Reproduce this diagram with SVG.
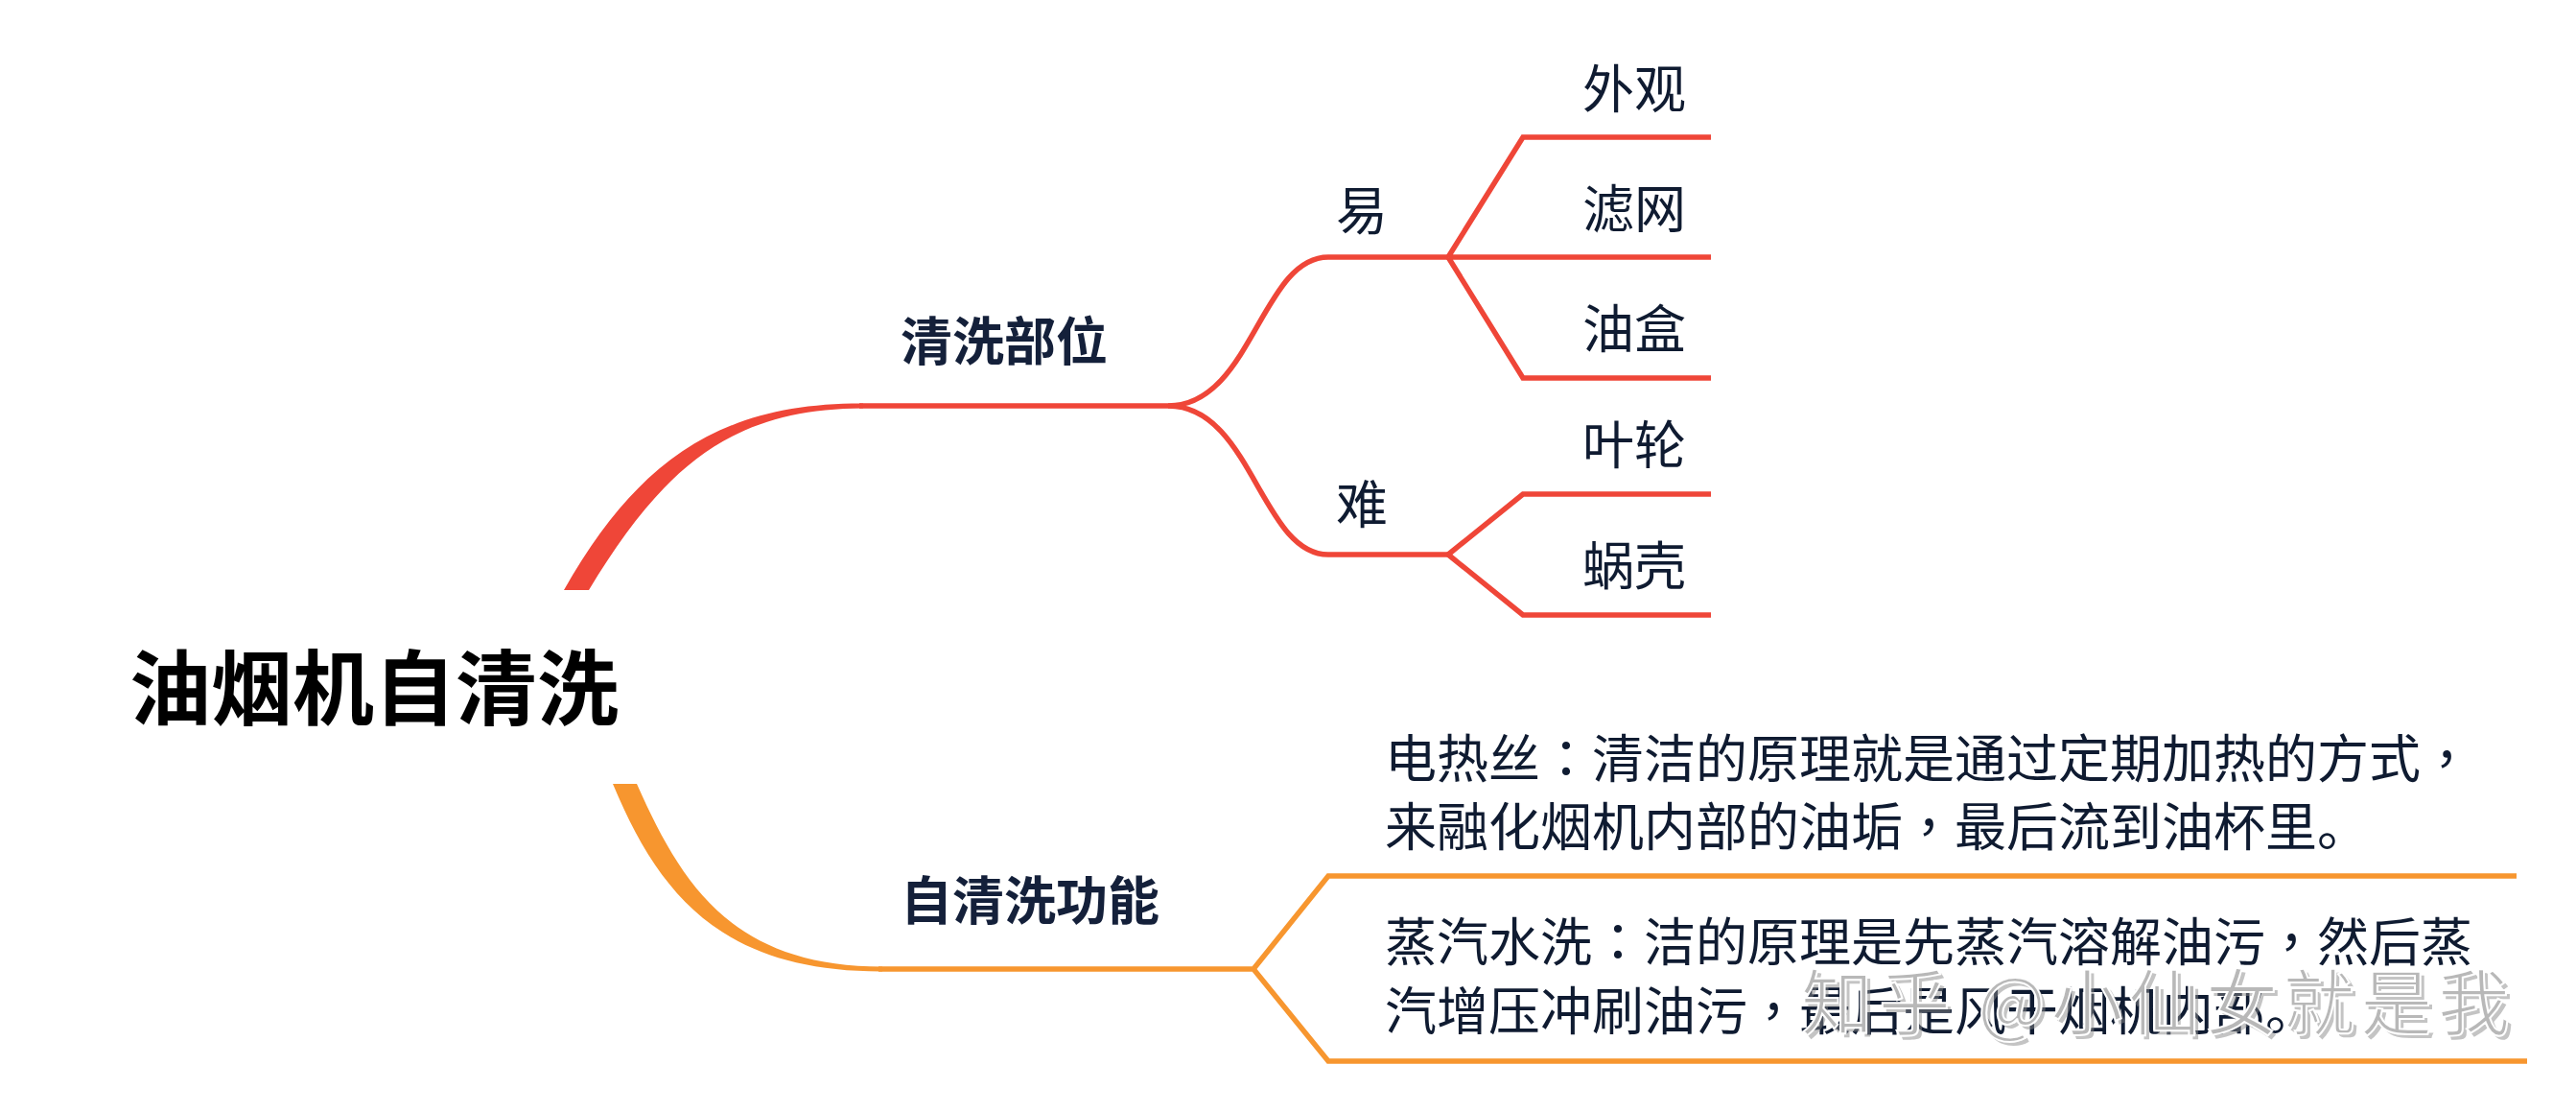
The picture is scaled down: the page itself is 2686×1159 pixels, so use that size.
<svg xmlns="http://www.w3.org/2000/svg" width="2686" height="1159" viewBox="0 0 2686 1159">
<style>
.t{font-family:"Noto Sans CJK SC","Noto Sans",sans-serif;fill:#0f1b31;}
.root{font-size:85px;font-weight:700;fill:#000000;}
.main{font-size:54px;font-weight:700;fill:#14203a;}
.sub{font-size:54px;}
.body{font-size:54px;}
.p{font-family:"Noto Sans CJK TC","Noto Sans CJK SC",sans-serif;}
.red{fill:none;stroke:#ef4638;stroke-width:5.5;stroke-linejoin:miter;}
.org{fill:none;stroke:#f7962f;stroke-width:5.5;stroke-linejoin:miter;}
.wm{font-family:"Noto Sans CJK SC",sans-serif;font-size:75px;}
</style>
<rect width="2686" height="1159" fill="#ffffff"/>
<g id="connectors">
  <path d="M588,615 C668,474 757,420 900,420.5 L900,425.5 C763,426 692,486 614,615 Z" fill="#ef4638"/>
  <path class="red" d="M896,423 L1218,423 C1305,423 1315,268 1385,268 L1510,268"/>
  <path class="red" d="M1218,423 C1305,423 1315,578 1385,578 L1510,578"/>
  <path class="red" d="M1510,268 L1784,268 M1510,268 L1588,143 L1784,143 M1510,268 L1588,394 L1784,394"/>
  <path class="red" d="M1510,578 L1588,515 L1784,515 M1510,578 L1588,641 L1784,641"/>
  <path d="M639,817 C688,935 755,1013 920,1012.5 L920,1007.5 C765,1007 712,925 664,817 Z" fill="#f7962f"/>
  <path class="org" d="M916,1010 L1307,1010 L1385,913 L2624,913 M1307,1010 L1385,1106 L2635,1106"/>
</g>
<g id="root"><text class="t root" x="135" y="749">油烟机自清洗</text></g>
<g id="topic-parts"><text class="t main" x="939" y="376">清洗部位</text></g>
<g id="topic-function"><text class="t main" x="939" y="959">自清洗功能</text></g>
<g id="easy"><text class="t sub" x="1393" y="240">易</text></g>
<g id="hard"><text class="t sub" x="1393" y="546">难</text></g>
<g id="leaf-waiguan"><text class="t sub" x="1650" y="113">外观</text></g>
<g id="leaf-lvwang"><text class="t sub" x="1650" y="238">滤网</text></g>
<g id="leaf-youhe"><text class="t sub" x="1650" y="363">油盒</text></g>
<g id="leaf-yelun"><text class="t sub" x="1650" y="484">叶轮</text></g>
<g id="leaf-woke"><text class="t sub" x="1650" y="610">蜗壳</text></g>
<g id="detail-heat">
  <text class="t body" x="1444" y="811">电热丝<tspan class="p">：</tspan>清洁的原理就是通过定期加热的方式<tspan class="p">，</tspan></text>
  <text class="t body" x="1444" y="882">来融化烟机内部的油垢<tspan class="p">，</tspan>最后流到油杯里。</text>
</g>
<g id="detail-steam">
  <text class="t body" x="1444" y="1002">蒸汽水洗<tspan class="p">：</tspan>洁的原理是先蒸汽溶解油污<tspan class="p">，</tspan>然后蒸</text>
  <text class="t body" x="1444" y="1074">汽增压冲刷油污<tspan class="p">，</tspan>最后是风干烟机内部。</text>
</g>
<g id="watermark">
  <text class="wm" x="1882" y="1077" textLength="739" lengthAdjust="spacing" fill="#8a8a8a" fill-opacity="0.5">知乎 @小仙女就是我</text>
  <text class="wm" x="1878" y="1073" textLength="739" lengthAdjust="spacing" fill="#b8b8b8" stroke="#ffffff" stroke-width="2">知乎 @小仙女就是我</text>
</g>
</svg>
